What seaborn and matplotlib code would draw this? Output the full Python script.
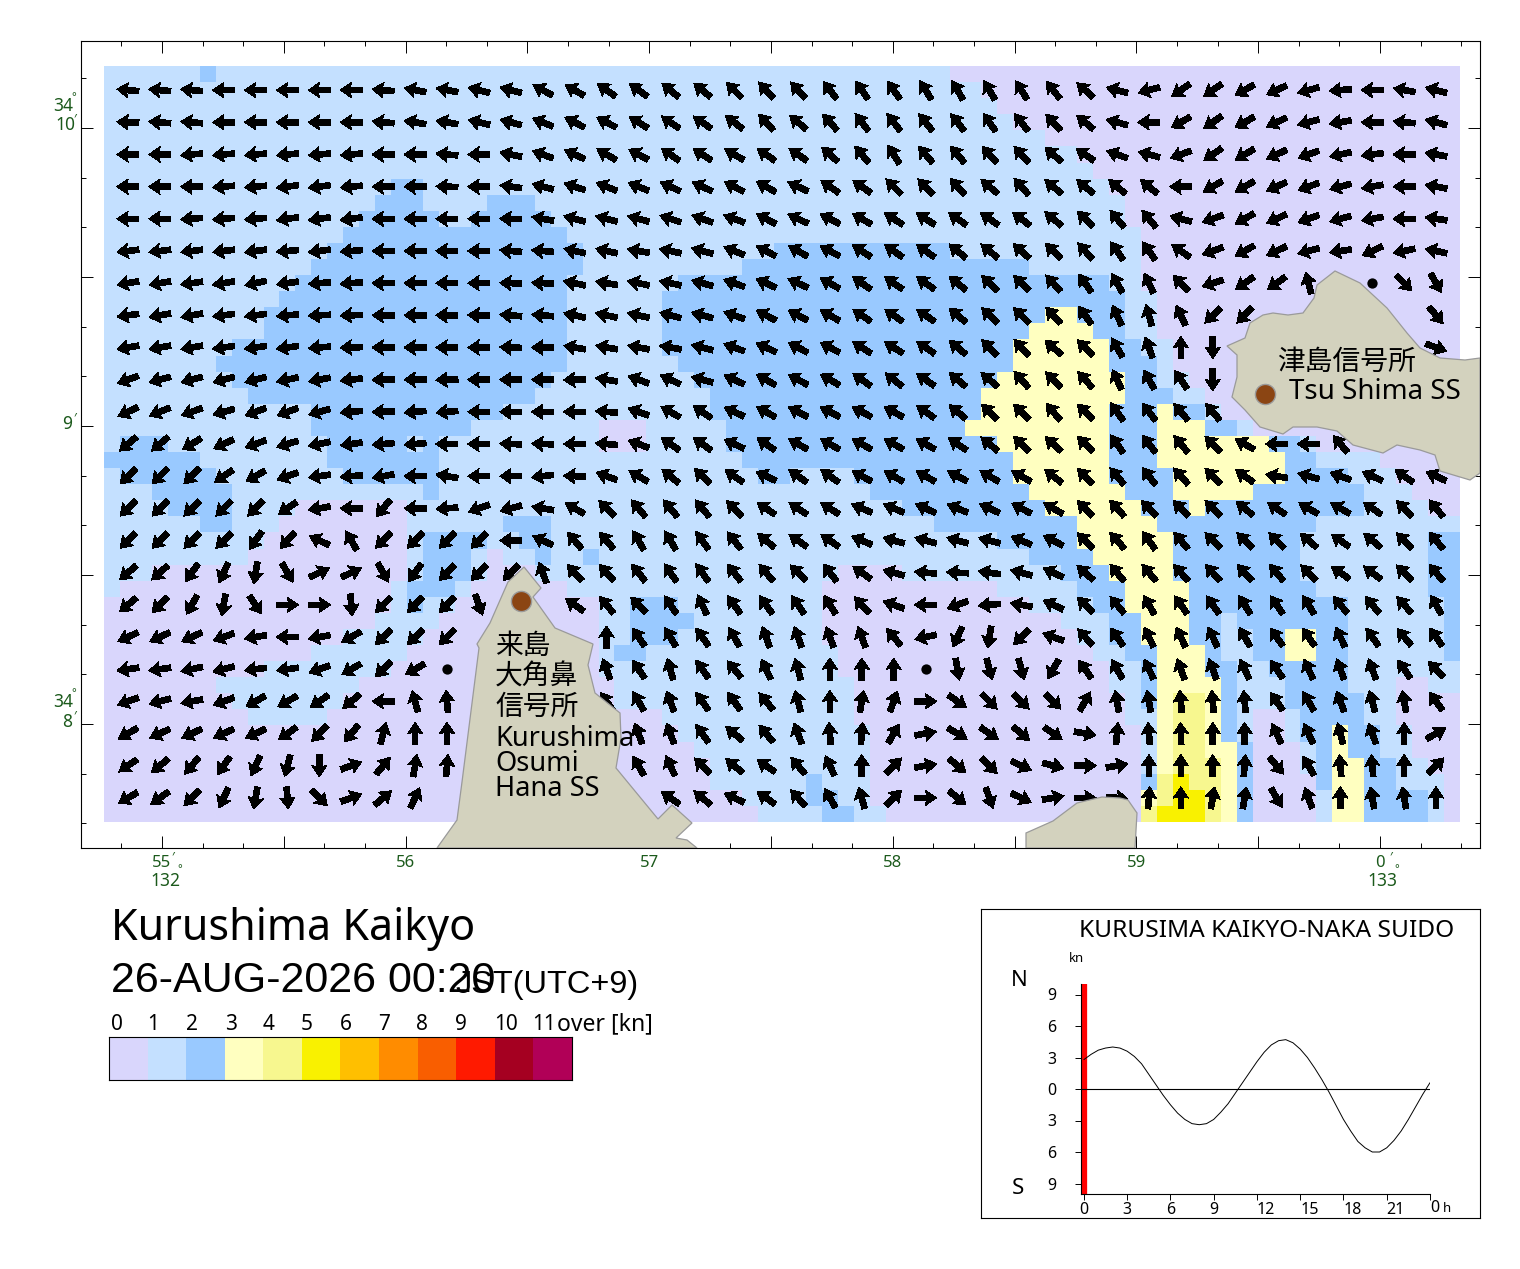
import numpy as np
import matplotlib
matplotlib.use("Agg")
import matplotlib.pyplot as plt
from matplotlib.colors import ListedColormap
from matplotlib.patches import Polygon
import seaborn as sns

W, H = 1520, 1269
n = np.nan
calm = -1

speed_colors = ["#D9D6FC", "#C4E0FF", "#99C9FF", "#FFFFC0", "#F7F78F", "#F9F100",
                "#FFBF00", "#FF8C00", "#F95E00", "#FF1A00", "#A50021", "#B10057"]
legend_labels = ["0", "1", "2", "3", "4", "5", "6", "7", "8", "9", "10", "11"]

# speed class per row of the grid, written as class:last column
speed_rows = [
    "1:6 2:7 1:53 0:85",
    "1:55 0:85",
    "1:56 0:85",
    "1:57 0:85",
    "1:59 0:85",
    "1:61 0:85",
    "1:62 0:85",
    "1:18 2:20 1:63 0:85",
    "1:17 2:20 1:24 2:27 1:64 0:85",
    "1:16 2:21 1:23 2:28 1:64 0:85",
    "1:15 2:29 1:65 0:85",
    "1:14 2:30 1:42 2:53 1:65 0:85",
    "1:13 2:30 1:40 2:58 1:65 0:85",
    "1:12 2:29 1:36 2:63 1:65 0:85",
    "1:11 2:29 1:35 2:64 1:66 0:85",
    "1:10 2:29 1:35 2:59 3:61 2:64 1:66 0:85",
    "1:10 2:29 1:35 2:58 3:62 2:64 1:66 0:85",
    "1:8 2:29 1:35 2:57 3:63 2:65 1:67 0:85",
    "1:7 2:29 1:36 2:57 3:63 2:66 1:67 0:85",
    "1:8 2:28 1:37 2:56 3:64 2:66 1:68 0:85",
    "1:9 2:27 1:38 2:55 3:64 2:67 1:69 0:85",
    "1:13 2:25 1:38 2:55 3:63 2:66 3:67 2:69 1:70 0:85",
    "1:13 2:23 1:31 0:34 1:39 2:54 3:63 2:66 3:69 2:71 1:72 0:85",
    "1:1 2:4 1:14 2:19 1:20 2:21 1:31 0:34 1:39 2:56 3:63 2:66 3:73 2:75 1:76 0:85",
    "2:6 1:14 2:21 1:40 2:57 3:63 2:66 3:74 2:76 1:80 0:85",
    "1:1 2:7 1:15 2:21 1:41 2:43 1:47 2:57 3:63 2:67 3:74 2:78 1:81 0:85",
    "1:3 2:8 1:20 2:21 1:48 2:58 3:64 2:67 3:72 2:79 1:82 0:85",
    "1:4 2:8 1:12 0:19 1:50 2:59 3:65 2:68 3:69 2:79 1:83 0:85",
    "1:6 2:8 1:11 0:19 1:25 2:28 1:52 2:61 3:66 2:76 1:85",
    "1:10 0:19 1:20 2:24 1:26 2:28 1:56 2:61 3:67 2:75 1:83 2:85",
    "1:9 0:19 1:20 2:23 1:24 0:25 1:27 2:28 1:30 2:31 1:58 2:62 3:67 2:75 1:83 2:85",
    "1:3 0:19 1:20 2:23 1:24 0:27 1:46 0:50 1:60 2:63 3:67 2:75 1:83 2:85",
    "1:1 0:18 1:19 2:22 1:23 0:29 1:45 0:56 1:61 2:64 3:68 2:76 1:83 2:85",
    "0:18 1:19 2:20 1:22 0:31 1:33 2:36 1:45 0:58 1:62 2:64 3:68 2:78 1:84 2:85",
    "0:17 1:21 0:31 1:33 2:37 1:45 0:60 1:63 2:65 3:68 2:70 1:71 2:78 1:84 2:85",
    "0:15 1:20 0:31 1:33 2:36 1:45 0:61 1:63 2:65 3:68 2:70 1:72 2:74 3:76 2:78 1:84 2:85",
    "0:13 1:19 0:31 1:32 2:34 1:46 0:62 1:64 2:66 3:69 2:70 1:72 2:74 3:76 2:78 1:84 2:85",
    "0:10 1:18 0:31 1:46 0:63 1:65 2:66 3:69 2:71 1:73 2:78 1:85",
    "0:7 1:16 0:32 1:47 0:63 1:65 2:66 3:70 2:71 1:74 2:78 1:81 0:83 1:85",
    "0:8 1:15 0:32 1:47 0:64 1:65 2:66 3:67 4:69 3:70 2:71 1:74 2:79 1:81 0:85",
    "0:9 1:14 0:35 1:47 0:64 1:66 3:67 4:69 3:70 2:71 1:72 0:74 1:75 2:79 1:81 0:85",
    "0:36 1:48 0:65 1:66 3:67 4:69 3:70 2:71 1:72 0:74 1:75 2:77 3:78 2:80 1:82 0:85",
    "0:37 1:48 0:65 1:66 3:67 4:69 3:71 2:72 0:75 1:76 2:77 3:78 2:80 1:82 0:85",
    "0:38 1:48 0:65 1:66 3:67 4:70 3:71 2:72 0:75 1:76 2:77 3:79 2:81 1:83 0:85",
    "0:38 1:44 2:45 1:48 0:65 2:66 4:67 5:68 4:70 3:71 2:72 0:76 2:77 3:79 2:81 1:84 0:85",
    "0:40 1:44 2:46 1:48 0:65 3:66 4:67 5:69 4:70 3:71 2:72 0:76 1:77 3:79 2:83 1:84 0:85",
    "0:41 1:45 2:47 1:49 0:65 4:66 5:69 4:70 3:71 2:72 0:76 1:77 3:79 2:83 1:84 0:85",
]

# current direction in compass degrees, one row per arrow line (n = under land)
dir_rows = [
    [275,275,275,270,270,270,270,270,275,280, 280,285,285,298,300,305,305,310,310,315,318, 318,322,325,325,328,330,330,328,322,312,285, 255,235,235,240,245,255,265,270,280,285],
    [272,275,275,270,270,270,270,270,275,280, 280,283,285,292,298,298,302,305,305,308,318, 310,318,322,322,322,322,325,322,318,310,285, 270,240,235,240,245,255,260,270,275,285],
    [270,270,265,265,265,265,265,265,270,270, 275,270,282,290,295,300,298,305,303,300,305, 305,312,320,328,320,320,318,318,312,305,290, 285,250,235,240,245,250,258,263,270,280],
    [270,270,270,265,265,262,262,265,270,270, 272,270,278,285,288,292,292,295,295,298,300, 295,305,305,315,315,318,310,318,310,310,310, 310,270,240,240,245,250,255,260,270,280],
    [270,270,265,265,265,262,262,262,270,270, 270,270,272,280,285,285,285,288,290,290,298, 295,298,300,303,303,305,305,308,310,315,320, 320,285,250,240,245,250,255,260,270,278],
    [263,263,263,263,263,265,263,265,270,270, 270,270,275,275,282,282,280,282,285,292,298, 300,298,303,305,305,310,310,312,315,318,325, 325,305,250,240,245,255,262,245,258,282],
    [260,260,262,260,258,262,265,265,270,270, 270,270,272,272,282,280,282,282,285,290,295, 295,300,305,305,305,310,315,315,318,325,330, 335,315,252,235,235,345,n,calm,135,150],
    [262,260,260,262,262,265,267,268,270,270, 270,272,275,275,283,283,283,285,285,290,298, 298,300,305,305,305,310,315,315,318,325,335, 345,335,225,225,n,n,n,n,n,140],
    [260,260,260,262,262,262,265,268,270,270, 270,270,272,270,280,280,280,280,285,290,295, 298,298,303,303,305,310,315,318,312,315,330, 340,0,180,n,n,n,n,n,n,110],
    [250,255,255,255,255,258,260,263,268,270, 268,270,270,270,268,280,290,295,285,295,300, 298,300,305,308,305,310,310,318,315,318,335, 330,325,180,n,n,n,n,n,n,n],
    [245,248,250,255,250,250,255,265,268,265, 265,270,270,270,270,275,290,300,305,295,300, 298,298,298,300,305,310,315,315,320,315,325, 322,320,320,n,n,n,n,n,n,n],
    [230,230,238,245,250,253,258,262,265,265, 270,270,272,272,270,275,290,305,305,295,305, 300,300,300,300,300,305,310,315,312,315,325, 322,320,315,300,270,270,320,n,n,n],
    [225,225,225,235,240,250,262,265,260,270, 280,270,270,263,272,290,300,310,315,305,295, 305,305,298,300,300,298,300,300,308,315,320, 322,318,315,305,280,285,290,295,305,295],
    [225,225,225,225,225,235,260,270,220,270, 265,250,255,280,300,315,320,320,320,315,305, 305,303,293,293,295,293,295,298,300,315,318, 315,315,315,310,305,300,300,305,315,320],
    [225,225,225,225,215,222,295,330,225,225, 225,225,270,295,320,320,330,330,325,322,310, 305,305,293,285,285,285,285,293,298,315,318, 325,320,315,315,315,310,305,310,315,320],
    [230,228,215,205,190,150,65,65,150,215, 225,225,225,340,318,318,322,325,325,322,320, 315,322,305,285,275,273,278,285,295,312,320, 320,318,318,318,320,315,305,308,315,320],
    [230,225,210,190,145,90,90,175,225,225, 225,160,n,n,305,320,315,325,335,325,325, 325,328,318,290,270,250,265,280,295,315,320, 330,325,325,328,325,328,320,320,318,330],
    [245,245,245,250,260,270,260,240,225,225, 225,n,n,n,n,0,325,330,325,330,340, 340,340,340,320,258,205,190,225,290,318,325, 335,335,335,330,325,325,335,325,320,325],
    [262,262,258,255,263,262,250,240,225,240, calm,n,n,n,n,340,325,345,325,320,335, 345,0,0,0,calm,170,165,165,210,325,330, 335,340,340,335,325,335,340,340,325,315],
    [250,255,260,250,240,240,235,230,270,345, 355,n,n,n,n,325,330,340,325,325,320, 345,0,10,20,90,125,135,135,135,30,350, 350,355,355,355,325,330,340,345,350,325],
    [240,245,245,245,245,235,225,220,15,0, 0,n,n,n,n,n,340,340,325,310,320, 340,355,5,30,80,120,125,130,125,100,5, 355,358,0,0,335,335,345,340,0,60],
    [235,230,220,215,205,195,180,70,40,10, 5,n,n,n,n,n,330,335,315,310,305, 320,335,0,45,80,130,135,115,105,90,80, 0,0,0,5,140,330,355,355,0,45],
    [240,235,225,205,190,175,135,70,50,25, n,n,n,n,n,n,n,305,310,295,305, 318,330,345,45,90,130,160,115,80,90,95, 5,0,10,10,150,340,0,350,350,0],
]

# coastlines, in image pixels
land_kurushima = [(524,567),(541,588),(533,597),(555,628),(593,644),(588,665),(595,693),(620,713),
                  (621,738),(616,768),(658,819),(672,805),(692,823),(676,838),(687,840),(697,848),
                  (437,848),(457,820),(462,782),(479,648),(477,644),(490,623),(508,582)]
land_tsushima = [(1335,271),(1360,283),(1387,308),(1407,333),(1420,348),(1440,358),(1465,360),(1480,358),
                 (1480,473),(1470,480),(1440,471),(1435,455),(1420,450),(1397,445),(1383,453),(1353,445),
                 (1337,431),(1317,427),(1293,427),(1283,434),(1260,427),(1245,410),(1232,397),(1237,377),
                 (1237,355),(1227,346),(1245,338),(1250,323),(1263,315),(1273,313),(1288,315),(1303,313),
                 (1314,298),(1317,285)]
land_south = [(1026,848),(1026,833),(1053,821),(1077,803),(1102,797),(1120,798),(1128,800),(1137,813),(1135,848)]

# tidal current forecast, half hourly, knots
tide_hours = [h / 2 for h in range(49)]
tide_knots = [2.8,3.3,3.7,3.9,4.0,3.9,3.6,3.1,2.4,1.4,0.4,-0.6,-1.5,-2.3,-2.9,-3.3,-3.4,-3.3,-2.9,-2.2,
              -1.4,-0.4,0.6,1.6,2.6,3.5,4.2,4.6,4.7,4.4,3.8,3.0,2.0,0.9,-0.3,-1.6,-2.9,-4.0,-5.0,-5.6,
              -6.0,-6.0,-5.6,-4.9,-4.0,-2.9,-1.7,-0.5,0.6]


def expand(row):
    out = []
    for token in row.split():
        cls, end = token.split(":")
        out += [int(cls)] * (int(end) - len(out))
    return out


def cx(x):
    return (x - 104) / 15.953


def cy(y):
    return (y - 66) / 16.085


def lon_tick(minute):
    return cx(162 + 243.6 * (minute - 55))


def lat_tick(minute):
    return cy(724 - 298 * (minute - 8))


def axes_px(x0, y0, x1, y1):
    return fig.add_axes([x0 / W, 1 - y1 / H, (x1 - x0) / W, (y1 - y0) / H])


def put(x, y, s, **kw):
    kw.setdefault("va", "center")
    kw.setdefault("ha", "left")
    kw.setdefault("color", "black")
    return fig.text(x / W, 1 - (y + 2) / H, s, zorder=10, **kw)


def frame_up(a):
    for side in a.spines.values():
        side.set_visible(True)
        side.set_color("black")
        side.set_linewidth(0.8)


sns.set_style("white")
plt.rcParams["font.family"] = ["Noto Sans", "Noto Sans CJK JP", "DejaVu Sans"]
plt.rcParams["text.color"] = "black"
plt.rcParams["xtick.labelcolor"] = "black"
plt.rcParams["ytick.labelcolor"] = "black"
fig = plt.figure(figsize=(W / 100, H / 100), dpi=100)
cmap = ListedColormap(speed_colors)

# map
ax = axes_px(81, 41, 1480, 848)
grid = np.array([expand(r) for r in speed_rows])
sns.heatmap(grid, ax=ax, cmap=cmap, vmin=0, vmax=12, cbar=False, xticklabels=False, yticklabels=False)

dirs = np.array(dir_rows, dtype=float)
xs, ys = np.meshgrid(1.5 + 2 * np.arange(dirs.shape[1]), 1.5 + 2 * np.arange(dirs.shape[0]))
flow = np.where(dirs >= 0, dirs, np.nan)
ok = ~np.isnan(flow)
ax.quiver(xs[ok], ys[ok], np.sin(np.radians(flow[ok])), np.cos(np.radians(flow[ok])),
          angles="uv", pivot="mid", units="dots", scale_units="dots", scale=1 / 22,
          width=5.6, headwidth=2.7, headlength=2.0, headaxislength=1.8,
          color="black", antialiased=False, linewidth=0, zorder=3)
still = dirs == calm
ax.scatter(xs[still], ys[still], s=55, color="black", linewidths=0, zorder=3)

for outline in [land_kurushima, land_tsushima, land_south]:
    pts = [(cx(x), cy(y)) for x, y in outline]
    ax.add_patch(Polygon(pts, closed=True, facecolor="#D3D2BE", edgecolor="#9A9A9A", linewidth=0.9, zorder=4))
ax.scatter([cx(1265), cx(521)], [cy(394), cy(601)], s=210, color="#8B4513", edgecolors="#9A9A9A",
           linewidths=1, zorder=5)

lon_major = np.arange(55, 60.6, 0.5)
lon_minor = np.arange(54 + 5 / 6, 60.45, 1 / 6)
lat_major = np.arange(7.5, 10.6, 0.5)
lat_minor = np.arange(7 + 2 / 6, 10.4, 1 / 6)
ax.set_xticks([lon_tick(m) for m in lon_major])
ax.set_xticks([lon_tick(m) for m in lon_minor], minor=True)
ax.set_yticks([lat_tick(m) for m in lat_major])
ax.set_yticks([lat_tick(m) for m in lat_minor], minor=True)
# set_xticks widens the view, so the limits come last
ax.set_xlim(cx(81), cx(1480))
ax.set_ylim(cy(848), cy(41))
ax.tick_params(which="major", direction="in", length=8.6, width=0.7, color="black",
               top=True, bottom=True, left=True, right=True, labelbottom=False, labelleft=False)
ax.tick_params(which="minor", direction="in", length=3.6, width=0.7, color="black",
               top=True, bottom=True, left=True, right=True)
frame_up(ax)

# axis labels
green = "#1C5A1C"
for x, lab in [(162, "55"), (405, "56"), (650, "57"), (893, "58"), (1137, "59"), (1380, "0")]:
    put(x, 861, lab, ha="center", color=green, fontsize=12)
for x in [162, 1380]:
    put(x + 11, 855, "′", ha="center", color=green, fontsize=9)
for x, lab in [(165, "132"), (1382, "133")]:
    put(x, 879, lab, ha="center", color=green, fontsize=12.5)
    put(x + 15, 868, "°", ha="center", color=green, fontsize=8)
for y, lab in [(104, "34"), (700, "34")]:
    put(63, y, lab, ha="center", color=green, fontsize=12.5)
    put(74, y - 8, "°", ha="center", color=green, fontsize=8)
for y, lab in [(123, "10"), (422, "9"), (720, "8")]:
    put(65 if lab == "10" else 67, y, lab, ha="center", color=green, fontsize=12.5)
    put(75, y - 6, "′", ha="center", color=green, fontsize=9)

# station names
put(1277, 361, "津島信号所", fontsize=20)
put(1289, 390, "Tsu Shima SS", fontsize=20)
put(495, 645, "来島", fontsize=20)
put(495, 676, "大角鼻", fontsize=20)
put(495, 706, "信号所", fontsize=20)
put(495, 737, "Kurushima", fontsize=19.6)
put(495, 762, "Osumi", fontsize=19.6)
put(495, 787, "Hana SS", fontsize=19.6)

# titles
put(111, 927, "Kurushima Kaikyo", fontsize=31)
put(111, 979, "26-AUG-2026 00:20", fontsize=31, family="Liberation Sans")
put(455, 983, "JST(UTC+9)", fontsize=23.4, family="Liberation Sans")

# speed legend
bar = axes_px(109, 1037, 572, 1080)
sns.heatmap(np.arange(12).reshape(1, 12), ax=bar, cmap=cmap, vmin=0, vmax=12, cbar=False,
            xticklabels=False, yticklabels=False)
frame_up(bar)
for x, lab in zip([117, 153, 192, 231, 269, 307, 346, 384, 422, 461, 506, 544], legend_labels):
    put(x, 1022, lab, ha="center", fontsize=15)
put(557, 1022, "over [kn]", fontsize=16.5)

# tide panel
frame = axes_px(981, 909, 1480, 1218)
frame.set_xticks([])
frame.set_yticks([])
frame_up(frame)

tide = axes_px(1081, 984, 1430, 1194)
tide.patch.set_alpha(0)
tide.axhline(0, color="black", linewidth=0.8)
tide.axvline(0, color="#FF0000", linewidth=3.8, zorder=1)
sns.lineplot(x=tide_hours, y=tide_knots, ax=tide, color="black", linewidth=0.7, zorder=2)
tide.set_xticks(range(0, 25, 3))
tide.set_xticklabels(["0", "3", "6", "9", "12", "15", "18", "21", ""], fontsize=11.5)
for lab in tide.get_xticklabels()[4:]:
    lab.set_ha("left")
tide.set_yticks([-9, -6, -3, 0, 3, 6, 9])
tide.set_yticklabels(["9", "6", "3", "0", "3", "6", "9"], fontsize=11.5)
tide.set_xlim(-0.2, 24)
tide.set_ylim(-10, 10)
tide.tick_params(axis="both", direction="out", length=4, width=0.7, pad=2, color="black", left=True, bottom=True)
tide.tick_params(axis="y", pad=14)
tide.spines["top"].set_visible(False)
tide.spines["right"].set_visible(False)
for s in ["left", "bottom"]:
    tide.spines[s].set_visible(True)
    tide.spines[s].set_color("black")
    tide.spines[s].set_linewidth(0.8)

put(1267, 929, "KURUSIMA KAIKYO-NAKA SUIDO", ha="center", fontsize=17.6)
put(1077, 956, "kn", ha="center", fontsize=9.5)
put(1019, 978, "N", ha="center", fontsize=16)
put(1018, 1187, "S", ha="center", fontsize=16)
put(1430, 1206, "0", fontsize=11.5)
put(1443, 1207, "h", fontsize=9.5)

fig.savefig("out.png", dpi=100)
